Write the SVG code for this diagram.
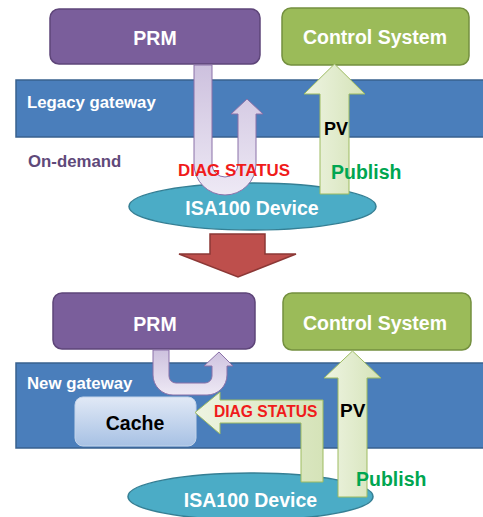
<svg xmlns="http://www.w3.org/2000/svg" width="483" height="517" viewBox="0 0 483 517">
  <defs>
    <linearGradient id="lavender" x1="0" y1="0" x2="0" y2="1">
      <stop offset="0" stop-color="#CDC1DE"/>
      <stop offset="1" stop-color="#EEE9F5"/>
    </linearGradient>
    <linearGradient id="lime" x1="0" y1="0" x2="1" y2="0">
      <stop offset="0" stop-color="#EEF4E2"/>
      <stop offset="1" stop-color="#D5E3B8"/>
    </linearGradient>
    <linearGradient id="cacheFill" x1="0" y1="0" x2="0" y2="1">
      <stop offset="0" stop-color="#E1E9F6"/>
      <stop offset="1" stop-color="#A7C1E4"/>
    </linearGradient>
  </defs>
  <style>
    text { font-family: "Liberation Sans", Arial, sans-serif; font-weight: bold; }
    .prm { fill: #7A5E9B; stroke: #5E4579; stroke-width: 1.5; }
    .ctrl { fill: #9BBB59; stroke: #74903F; stroke-width: 1.5; }
    .band { fill: #4A7EBB; stroke: #39618F; stroke-width: 1.5; }
    .dev { fill: #4BACC6; stroke: #357F94; stroke-width: 1.5; }
    .cache { fill: url(#cacheFill); stroke: #C3D4EA; stroke-width: 1; }
    .uturn { fill: url(#lavender); stroke: #8A70A8; stroke-width: 1; }
    .flow { fill: url(#lime); stroke: #9DBB61; stroke-width: 1; }
    .down { fill: #BE4F4C; stroke: #8C3836; stroke-width: 1.5; }
    .white { fill: #FFFFFF; }
    .center { text-anchor: middle; }
    .red { fill: #F01B1B; }
    .green { fill: #00A651; }
    .black { fill: #000000; }
    .purple { fill: #5F497A; }
  </style>

  <!-- ===== Upper scenario: legacy gateway ===== -->
  <g id="legacy-gateway">
    <rect class="band" x="16" y="80" width="480" height="57"/>
    <text class="white" x="27" y="108" font-size="16.8">Legacy gateway</text>
  </g>
  <g id="prm-top">
    <rect class="prm" x="50" y="9" width="210" height="55" rx="9"/>
    <text class="white center" x="155" y="45" font-size="19.5">PRM</text>
  </g>
  <g id="control-top">
    <rect class="ctrl" x="282" y="8" width="187" height="57" rx="9"/>
    <text class="white center" x="375" y="44" font-size="19.5">Control System</text>
  </g>
  <g id="on-demand-label">
    <text class="purple" x="28" y="167" font-size="16.8">On-demand</text>
  </g>
  <g id="device-top">
    <ellipse class="dev" cx="252.5" cy="206.5" rx="123.5" ry="23.5"/>
  </g>

  <!-- ===== Lower scenario: new gateway ===== -->
  <g id="new-gateway">
    <rect class="band" x="16" y="363" width="480" height="85"/>
    <text class="white" x="27" y="389" font-size="16.8">New gateway</text>
  </g>
  <g id="prm-bottom">
    <rect class="prm" x="53" y="293" width="202" height="56" rx="9"/>
    <text class="white center" x="155" y="331" font-size="19.5">PRM</text>
  </g>
  <g id="control-bottom">
    <rect class="ctrl" x="283" y="293" width="188" height="57" rx="9"/>
    <text class="white center" x="375" y="330" font-size="19.5">Control System</text>
  </g>
  <g id="cache">
    <rect class="cache" x="75" y="397" width="121" height="49" rx="8"/>
    <text class="black center" x="135" y="430" font-size="19.5">Cache</text>
  </g>
  <g id="device-bottom">
    <ellipse class="dev" cx="250.5" cy="496.5" rx="122.5" ry="23.5"/>
  </g>

  <!-- ===== Connectors ===== -->
  <g id="connectors">
    <!-- transition between the two scenarios -->
    <path class="down" d="M210,234 L265,234 L265,254 L296,254 L238,277 L179,254 L210,254 Z"/>

    <!-- upper: on-demand DIAG STATUS round trip through the gateway -->
    <path class="uturn" d="M194,65 L194,164 A31,31 0 0 0 256,164 L256,114 L263,114 L247,99 L231,114 L238,114 L238,164 A13,13 0 0 1 212,164 L212,65 Z"/>
    <!-- upper: PV published to the control system -->
    <path class="flow" d="M320,194 L320,94 L304,94 L334.5,64 L365,94 L349,94 L349,194 Z"/>

    <!-- lower: PRM reads from the gateway cache -->
    <path class="uturn" d="M153,350 L153,375 A20,20 0 0 0 173,395 L207,395 A20,20 0 0 0 227,375 L227,366 L233,366 L219,352 L204,366 L212,366 L212,376 A7,7 0 0 1 205,383 L176,383 A7,7 0 0 1 169,376 L169,350 Z"/>
    <!-- lower: DIAG STATUS pushed into the cache -->
    <path class="flow" d="M301,482 L301,423 L220,423 L220,434 L195,412.5 L220,392 L220,400 L323,400 L323,482 Z"/>
    <!-- lower: PV published to the control system -->
    <path class="flow" d="M338,497 L338,378 L324,378 L352.5,351 L381,378 L367,378 L367,497 Z"/>

    <!-- arrow labels -->
    <text class="red" x="178" y="176" font-size="16.9">DIAG STATUS</text>
    <text class="black" x="324" y="135" font-size="18">PV</text>
    <text class="green" x="331" y="179" font-size="19.5">Publish</text>
    <text class="red" x="214" y="417" font-size="15.6">DIAG STATUS</text>
    <text class="black" x="340" y="417" font-size="19">PV</text>
    <text class="green" x="356" y="486" font-size="19.5">Publish</text>
  </g>

  <!-- device labels on top of the arrows -->
  <g id="device-labels">
    <text class="white center" x="252" y="215" font-size="19.5">ISA100 Device</text>
    <text class="white center" x="250.5" y="507" font-size="19.5">ISA100 Device</text>
  </g>
</svg>
